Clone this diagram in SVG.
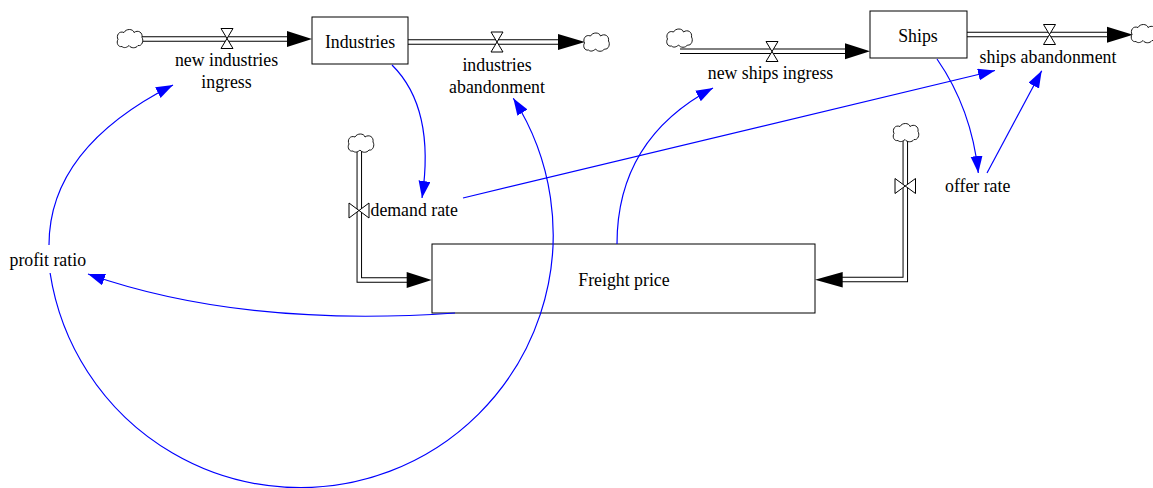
<svg xmlns="http://www.w3.org/2000/svg" width="1153" height="488" viewBox="0 0 1153 488">
<style>
text{font-family:'Liberation Serif','Tinos','Times New Roman','DejaVu Serif',serif;font-size:17.8px;fill:#000}
.box{fill:#fff;stroke:#000;stroke-width:1}
.pipeo{fill:none;stroke:#000;stroke-width:5.5;stroke-linejoin:miter}
.pipei{fill:none;stroke:#fff;stroke-width:3.5;stroke-linejoin:miter}
.valve{fill:#fff;stroke:#000;stroke-width:1}
.cloud{fill:#fff;stroke:#000;stroke-width:0.9}
.head{fill:#000}
.link{fill:none;stroke:#00f;stroke-width:1.2;marker-end:url(#ba)}
</style>
<defs>
<marker id="ba" markerWidth="20" markerHeight="14" refX="17" refY="6" orient="auto" markerUnits="userSpaceOnUse">
<path d="M0,0 L17,6 L0,12 Z" fill="#00f"/>
</marker>
<path id="cloud" class="cloud" d="M-8,8 C-12,9 -14,4 -12,1 C-14,-3 -11,-8 -6,-6 C-4,-10 3,-10 4,-6 C8,-9 13,-6 12,-1 C14,2 12,8 8,7 C6,10 1,10 -1,7 C-3,9 -6,10 -8,8 Z"/>
</defs>
<rect width="1153" height="488" fill="#fff"/>

<g id="flows">
<g id="flow-new-industries-ingress">
<path class="pipeo" d="M140,39 H290"/><path class="pipei" d="M140,39 H291"/>
<polygon class="head" points="287,31 312,39 287,47"/>
<use href="#cloud" x="130" y="38.5"/>
<polygon class="valve" points="221,28.5 233,28.5 221,48.5 233,48.5"/>
</g>
<g id="flow-industries-abandonment">
<path class="pipeo" d="M408,42 H560"/><path class="pipei" d="M407,42 H561"/>
<polygon class="head" points="558,34 585,42 558,50"/>
<use href="#cloud" x="596.5" y="42"/>
<polygon class="valve" points="491,32 503,32 491,52 503,52"/>
</g>
<g id="flow-new-ships-ingress">
<path class="pipeo" d="M680,51.3 H847"/><path class="pipei" d="M680,51.3 H848"/>
<polygon class="head" points="845,43.3 870,51.3 845,59.3"/>
<use href="#cloud" x="679.5" y="38"/>
<polygon class="valve" points="766,41.5 778,41.5 766,61.5 778,61.5"/>
</g>
<g id="flow-ships-abandonment">
<path class="pipeo" d="M967,34.5 H1108"/><path class="pipei" d="M966,34.5 H1109"/>
<polygon class="head" points="1107,26.7 1133,34.7 1107,42.7"/>
<use href="#cloud" x="1144" y="33.5"/>
<polygon class="valve" points="1043.5,24.5 1055.5,24.5 1043.5,44.5 1055.5,44.5"/>
</g>
<g id="flow-demand-rate">
<path class="pipeo" d="M359.3,150 V280 H409"/><path class="pipei" d="M359.3,150 V280 H410"/>
<polygon class="head" points="406.7,272 431.7,280 406.7,288"/>
<use href="#cloud" x="361" y="143"/>
<polygon class="valve" points="349,203 349,218 369,203 369,218"/>
</g>
<g id="flow-offer-rate">
<path class="pipeo" d="M905.3,139 V279.6 H840"/><path class="pipei" d="M905.3,139 V279.6 H839"/>
<polygon class="head" points="842.7,272 815,279.8 842.7,287.6"/>
<use href="#cloud" x="906" y="132.5"/>
<polygon class="valve" points="895,178.5 895,193.5 915.5,178.5 915.5,193.5"/>
</g>
</g>

<g id="node-industries">
<rect class="box" x="312" y="17" width="96" height="47"/>
<text x="360" y="48" text-anchor="middle">Industries</text>
</g>
<g id="node-ships">
<rect class="box" x="870" y="11" width="97" height="47"/>
<text x="918" y="42" text-anchor="middle">Ships</text>
</g>
<g id="node-freight-price">
<rect class="box" x="432" y="244" width="383" height="69"/>
<text x="624" y="286" text-anchor="middle">Freight price</text>
</g>
<g id="node-new-industries-ingress">
<text x="226.5" y="66" text-anchor="middle">new industries</text>
<text x="226.5" y="88" text-anchor="middle">ingress</text>
</g>
<g id="node-industries-abandonment">
<text x="497" y="71" text-anchor="middle">industries</text>
<text x="497" y="93" text-anchor="middle">abandonment</text>
</g>
<g id="node-new-ships-ingress">
<text x="770.5" y="79" text-anchor="middle">new ships ingress</text>
</g>
<g id="node-ships-abandonment">
<text x="1048" y="63" text-anchor="middle">ships abandonment</text>
</g>
<g id="node-demand-rate">
<text x="370.5" y="215.5">demand rate</text>
</g>
<g id="node-offer-rate">
<text x="945" y="191.5">offer rate</text>
</g>
<g id="node-profit-ratio">
<text x="9.5" y="266">profit ratio</text>
</g>

<g id="connectors">
<path class="link" d="M392,65 Q435.5,108 422,198"/>
<path class="link" d="M463,198 L995,70.5"/>
<path class="link" d="M937,59 Q971.6,109 978.3,173"/>
<path class="link" d="M987,173 L1041.7,70.7"/>
<path class="link" d="M617,244 Q617,139 713,88"/>
<path class="link" d="M455,313 Q242,328 88,274"/>
<path class="link" d="M49,245 Q49,148 173,85"/>
<path class="link" d="M50.1,273 A253,253 0 1 0 513.3,98.3"/>
</g>
</svg>
